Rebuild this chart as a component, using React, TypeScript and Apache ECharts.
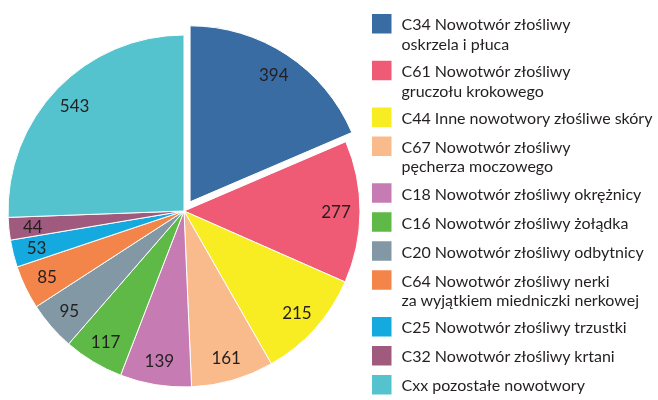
import React, { useEffect, useRef } from "react";
import * as echarts from "echarts";

const categories: string[] = [
  "C34 Nowotwór złośliwy\noskrzela i płuca",
  "C61 Nowotwór złośliwy\ngruczołu krokowego",
  "C44 Inne nowotwory złośliwe skóry",
  "C67 Nowotwór złośliwy\npęcherza moczowego",
  "C18 Nowotwór złośliwy okrężnicy",
  "C16 Nowotwór złośliwy żołądka",
  "C20 Nowotwór złośliwy odbytnicy",
  "C64 Nowotwór złośliwy nerki\nza wyjątkiem miedniczki nerkowej",
  "C25 Nowotwór złośliwy trzustki",
  "C32 Nowotwór złośliwy krtani",
  "Cxx pozostałe nowotwory",
];

const values: number[] = [394, 277, 215, 161, 139, 117, 95, 85, 53, 44, 543];

const colors: string[] = [
  "#386CA3",
  "#EF5A74",
  "#F8EC22",
  "#F9BA8C",
  "#C67BB3",
  "#5EB946",
  "#8298A5",
  "#F4854A",
  "#15AADF",
  "#A05A7E",
  "#54C3CD",
];

const FONT = 'Lato, "Open Sans", sans-serif';
const TEXT_COLOR = "#231F20";

export default function App() {
  const ref = useRef<HTMLDivElement>(null);

  useEffect(() => {
    if (!ref.current) return;
    const chart = echarts.init(ref.current, undefined, { renderer: "svg" });

    const mainData = categories.map((name, i) => ({
      name,
      value: values[i],
      selected: i === 0,
      itemStyle: { color: colors[i] },
    }));
    const labelData = categories.map((name, i) => ({
      name,
      value: values[i],
      selected: i === 0,
    }));

    const rich: Record<string, any> = {
      g: { width: 10, height: 19.5 },
      i: { width: 29.5, height: 19.5 },
      t: {
        fontSize: 16,
        lineHeight: 19.5,
        color: TEXT_COLOR,
        fontFamily: FONT,
      },
    };
    colors.forEach((c, i) => {
      rich["s" + i] = { width: 19.5, height: 19.5, backgroundColor: c };
    });

    chart.setOption({
      animation: false,
      legend: {
        orient: "vertical",
        left: 367,
        top: 14,
        padding: 0,
        itemGap: 9.5,
        itemWidth: 0,
        itemHeight: 19.5,
        icon: "none",
        data: categories,
        textStyle: { fontSize: 16, fontFamily: FONT, color: TEXT_COLOR, rich },
        formatter: (name: string) => {
          const idx = categories.indexOf(name);
          const lines = name.split("\n");
          return lines
            .map((ln, k) =>
              k === 0 ? `{s${idx}|}{g|}{t|${ln}}` : `{i|}{t|${ln}}`
            )
            .join("\n");
        },
      },
      series: [
        {
          type: "pie",
          center: [184, 211],
          radius: 176,
          startAngle: 90,
          clockwise: true,
          selectedMode: "single",
          selectedOffset: 11,
          avoidLabelOverlap: false,
          label: { show: false },
          labelLine: { show: false },
          itemStyle: { borderColor: "#ffffff", borderWidth: 1 },
          emphasis: { disabled: true },
          data: mainData,
        },
        {
          type: "pie",
          center: [184, 211],
          radius: [122, 176],
          startAngle: 90,
          clockwise: true,
          selectedMode: "single",
          selectedOffset: 11,
          silent: true,
          avoidLabelOverlap: false,
          itemStyle: { color: "rgba(0,0,0,0)", borderWidth: 0 },
          label: {
            show: true,
            position: "inside",
            formatter: "{c}",
            fontSize: 17,
            fontFamily: FONT,
            color: TEXT_COLOR,
          },
          labelLine: { show: false },
          emphasis: { disabled: true },
          data: labelData,
        },
      ],
    });

    return () => chart.dispose();
  }, []);

  return (
    <div
      ref={ref}
      style={{ position: "fixed", left: 0, top: 0, width: 658, height: 400 }}
    />
  );
}
